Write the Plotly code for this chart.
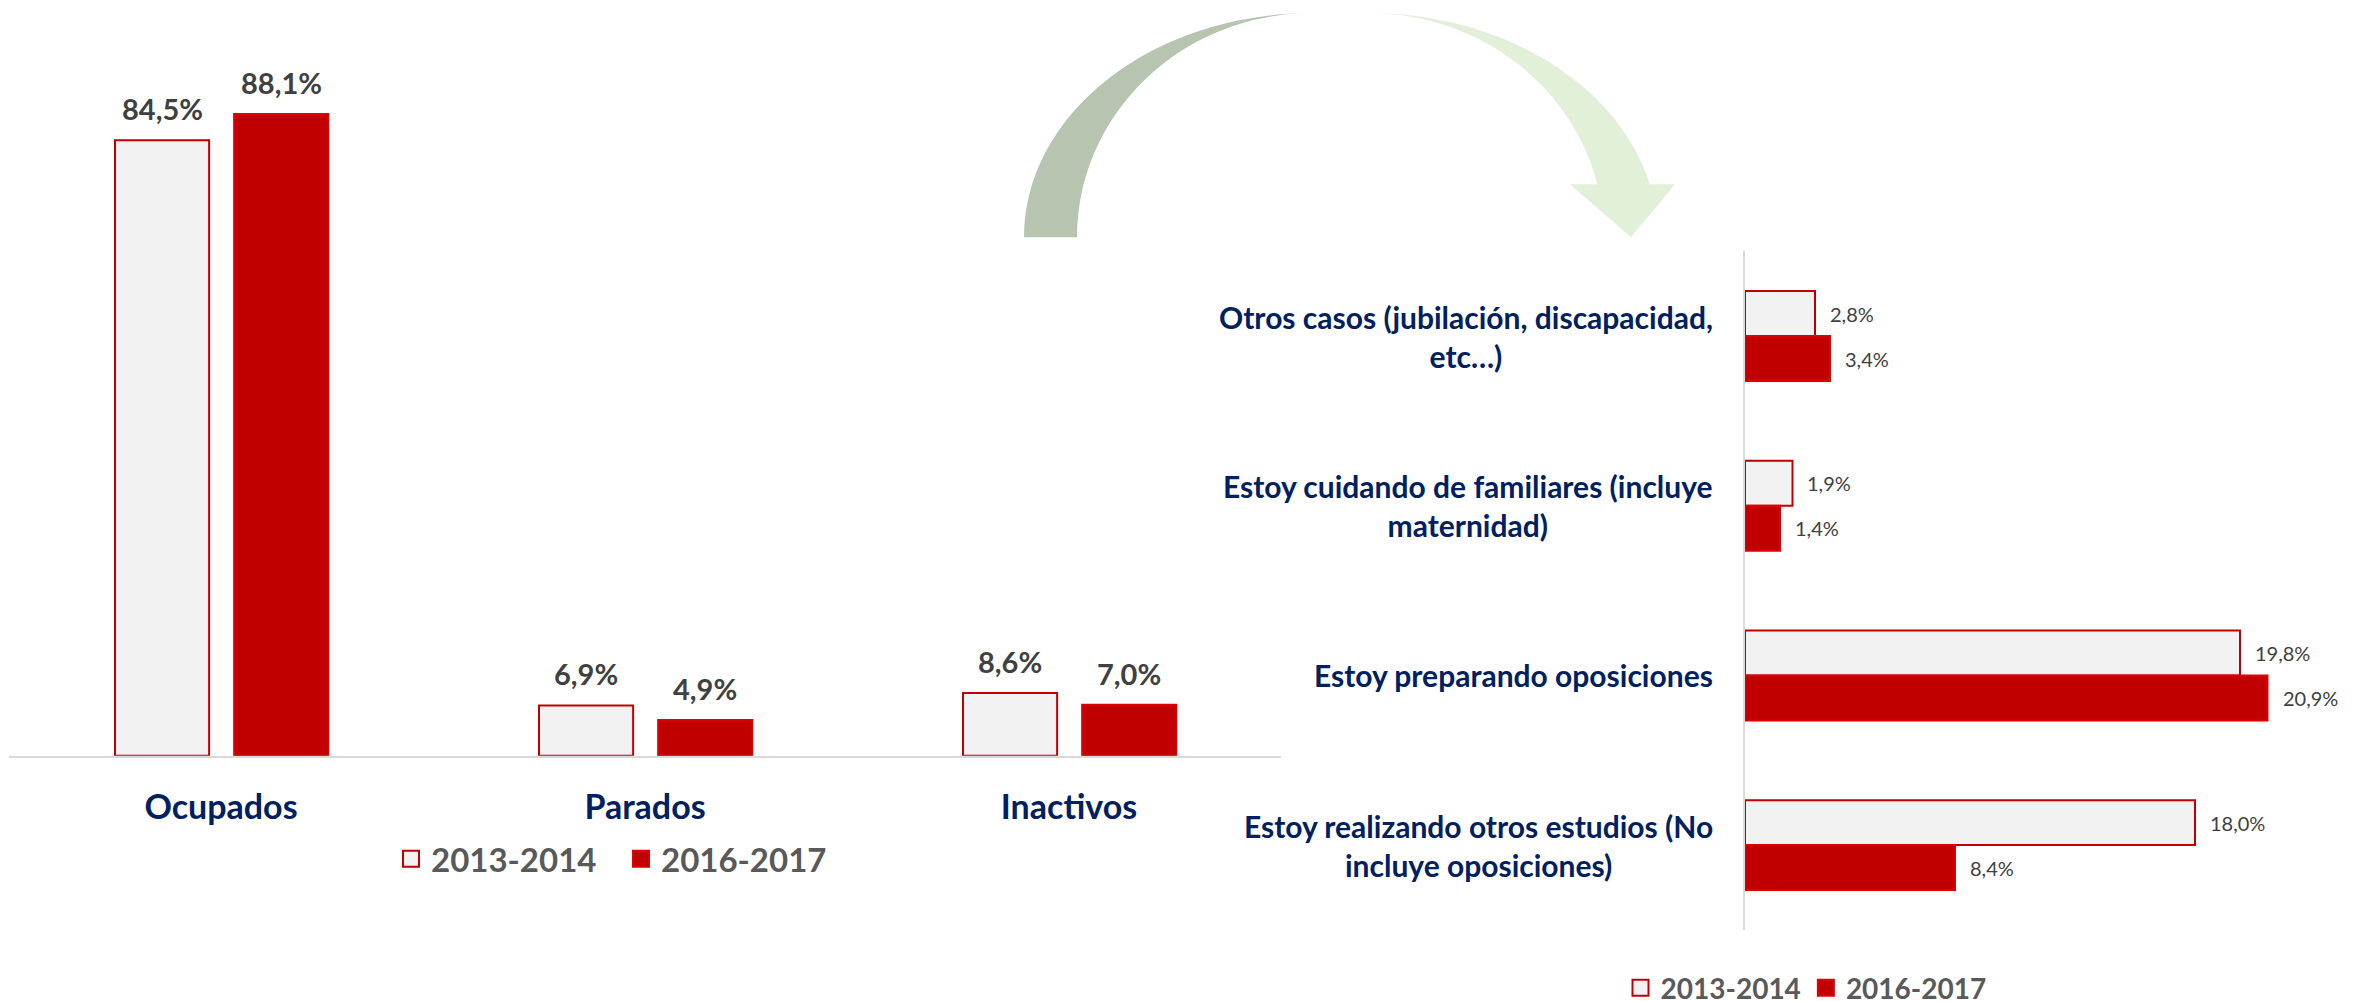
import numpy as np
import plotly.graph_objects as go

# target picture size; the shot comes back ~1.2% squeezed vertically,
# so the figure is drawn a bit taller and placed in fractions of REF_H
W, REF_H = 2369, 1001
H = 1013

# left chart data
situaciones = ["Ocupados", "Parados", "Inactivos"]
sit_2013 = [84.5, 6.9, 8.6]
sit_2016 = [88.1, 4.9, 7.0]

# right chart data
motivos = [
    "Otros casos (jubilación, discapacidad,<br>etc…)",
    "Estoy cuidando de familiares (incluye<br>maternidad)",
    "Estoy preparando oposiciones",
    "Estoy realizando otros estudios (No<br>incluye oposiciones)",
]
mot_2013 = [2.8, 1.9, 19.8, 18.0]
mot_2016 = [3.4, 1.4, 20.9, 8.4]

series = ["2013-2014", "2016-2017"]

NAVY = "#002060"
GREY_TXT = "#404040"
LIGHT = "#F2F2F2"
RED = "#C00000"
FONT = "Lato, Open Sans, sans-serif"


def pct(v):
    return f"{v:.1f}".replace(".", ",") + "%"


def px_x(x):
    return x / W


def px_y(y):
    return 1 - y / REF_H


def paper(x, y):
    return f"{px_x(x):.5f},{px_y(y):.5f}"


fig = go.Figure()

styles = [(LIGHT, RED), (RED, "#E00000")]

# left bars
lw = 0.222
loffs = [-0.25, 0.031]
for name, vals, off, (fill, line) in zip(series, [sit_2013, sit_2016], loffs, styles):
    fig.add_trace(go.Bar(
        x=situaciones, y=vals, name=name, width=lw, offset=off,
        marker=dict(color=fill, line=dict(color=line, width=2)),
        xaxis="x", yaxis="y", showlegend=False, hoverinfo="skip",
    ))

# right bars
rw = 0.265
roffs = [-0.265, 0.0]
for name, vals, off, (fill, line) in zip(series, [mot_2013, mot_2016], roffs, styles):
    fig.add_trace(go.Bar(
        y=motivos, x=vals, name=name, orientation="h", width=rw, offset=off,
        marker=dict(color=fill, line=dict(color=line, width=2)),
        xaxis="x2", yaxis="y2", showlegend=False, hoverinfo="skip",
    ))

# legend entries (bigger square symbols than bar legends give)
for lg in ["legend", "legend2"]:
    for name, (fill, line) in zip(series, styles):
        fig.add_trace(go.Scatter(
            x=[None], y=[None], mode="markers", name=name, legend=lg,
            marker=dict(symbol="square", size=16, color=fill,
                        line=dict(color=line, width=2)),
            xaxis="x", yaxis="y",
        ))

ann = []
for vals, off in zip([sit_2013, sit_2016], loffs):
    for i, v in enumerate(vals):
        ann.append(dict(
            x=i + off + lw / 2, y=v, xref="x", yref="y", text=pct(v),
            showarrow=False, yanchor="bottom", yshift=12,
            font=dict(family=FONT, size=29, color=GREY_TXT, weight="bold"),
        ))
for vals, off in zip([mot_2013, mot_2016], roffs):
    for i, v in enumerate(vals):
        ann.append(dict(
            x=v, y=i + off + rw / 2, xref="x2", yref="y2", text=pct(v),
            showarrow=False, xanchor="left", xshift=13,
            font=dict(family=FONT, size=20, color=GREY_TXT),
        ))
for i, m in enumerate(motivos):
    ann.append(dict(
        x=0, y=i, xref="x2", yref="y2", text=m, showarrow=False,
        xanchor="right", xshift=-30, align="center",
        font=dict(family=FONT, size=30, color=NAVY, weight="bold"),
    ))

# curved arrow (decoration)
cy = 237
t = np.linspace(np.pi, np.pi / 2, 50)
cx = 1312
outer = [(cx + 288 * np.cos(a), cy - 224 * np.sin(a)) for a in t]
inner = [(cx + 235 * np.cos(a), cy - 224 * np.sin(a)) for a in t[::-1]]
left_path = "M" + " L".join(paper(x, y) for x, y in outer + inner) + " Z"

cx2 = 1368
amax = np.arcsin(53 / 224)
t2 = np.linspace(np.pi / 2, amax, 50)
outer2 = [(cx2 + 290 * np.cos(a), cy - 224 * np.sin(a)) for a in t2]
inner2 = [(cx2 + 236 * np.cos(a), cy - 224 * np.sin(a)) for a in t2[::-1]]
pts2 = outer2 + [(1675, 184), (1631, 237), (1570, 184)] + inner2
right_path = "M" + " L".join(paper(x, y) for x, y in pts2) + " Z"

shapes = [
    dict(type="path", xref="paper", yref="paper", path=left_path,
         fillcolor="#B7C4B0", line=dict(width=0), layer="below"),
    dict(type="path", xref="paper", yref="paper", path=right_path,
         fillcolor="#E2EFD9", line=dict(width=0), layer="below"),
]

fig.update_layout(
    width=W, height=H,
    margin=dict(l=0, r=0, t=0, b=0),
    paper_bgcolor="white", plot_bgcolor="rgba(0,0,0,0)",
    barmode="overlay",
    font=dict(family=FONT),
    xaxis=dict(
        domain=[px_x(9), px_x(1281)], range=[-0.5, 2.5],
        showline=True, linecolor="#D9D9D9", linewidth=2, ticks="",
        showgrid=False, ticklabelstandoff=20, fixedrange=True,
        tickfont=dict(family=FONT, size=34, color=NAVY, weight="bold"),
    ),
    yaxis=dict(
        domain=[px_y(755), px_y(100)], range=[0, 90],
        showgrid=False, zeroline=False, showticklabels=False,
    ),
    xaxis2=dict(
        domain=[px_x(1745), px_x(2345)], range=[0, 24], anchor="y2",
        showgrid=False, zeroline=False, showticklabels=False, showline=False,
    ),
    yaxis2=dict(
        domain=[px_y(929), px_y(251)], anchor="x2",
        categoryorder="array", categoryarray=motivos, range=[3.5, -0.5],
        showline=True, linecolor="#D9D9D9", linewidth=2, ticks="",
        showticklabels=False, showgrid=False,
    ),
    legend=dict(
        orientation="h", x=px_x(621), xanchor="center", y=px_y(858),
        yanchor="middle", bgcolor="rgba(0,0,0,0)", entrywidth=185,
        font=dict(family=FONT, size=33, color="#595959", weight="bold"),
    ),
    legend2=dict(
        orientation="h", x=px_x(1806), xanchor="center", y=px_y(987),
        yanchor="middle", bgcolor="rgba(0,0,0,0)",
        font=dict(family=FONT, size=28, color="#595959", weight="bold"),
    ),
    annotations=ann,
    shapes=shapes,
)

# the page's default body margin would push the plot in
fig.write_html(
    "out.html",
    config={"displayModeBar": False},
    post_script="document.body.style.margin='0';"
                "document.documentElement.style.overflow='hidden';",
)
